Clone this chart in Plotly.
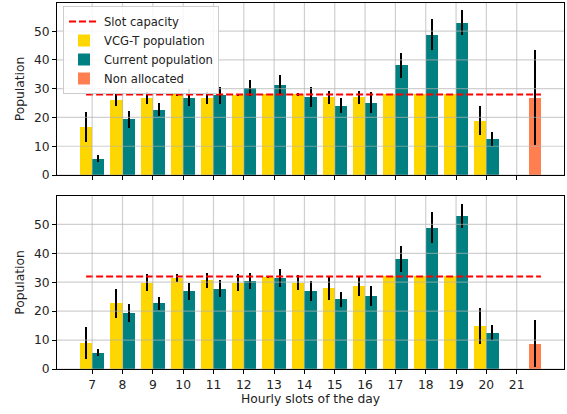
import plotly.graph_objects as go

hours = [7, 8, 9, 10, 11, 12, 13, 14, 15, 16, 17, 18, 19, 20, 21]

# Top panel
vcg_top = [16.8, 26.2, 26.9, 28.0, 26.9, 27.8, 28.0, 28.0, 27.0, 27.0, 28.0, 28.0, 28.0, 18.9, 0]
vcg_top_err = [5.2, 2.2, 2.1, 0.4, 2.1, 0.3, 0.2, 0.4, 2.2, 2.2, 0.2, 0.2, 0.2, 5.1, 0]
cur_pop = [5.7, 19.3, 22.7, 26.9, 27.7, 30.4, 31.4, 27.0, 24.1, 25.2, 38.1, 48.8, 53.0, 12.6, 0]
cur_err = [1.1, 3.1, 2.2, 2.9, 2.9, 2.8, 3.2, 3.5, 2.5, 3.5, 4.4, 5.3, 4.2, 2.5, 0]
nonalloc_top = [26.9]
nonalloc_top_err = [16.4]
capacity_top = 28.0

# Bottom panel
vcg_bot = [9.0, 22.7, 29.9, 31.4, 30.7, 29.9, 31.9, 29.8, 27.9, 28.6, 32.0, 32.0, 32.0, 15.0, 0]
vcg_bot_err = [5.5, 5.0, 2.9, 1.3, 2.6, 2.8, 0.3, 2.6, 4.0, 3.3, 0.2, 0.2, 0.2, 6.2, 0]
nonalloc_bot = [8.8]
nonalloc_bot_err = [8.2]
capacity_bot = 32.0

nonalloc_hour = [21]
cap_span = [6.8, 21.8]
yticks = [0, 10, 20, 30, 40, 50]

YELLOW = "#FFD700"
TEAL = "#008080"
CORAL = "#FF7F50"
BW = 0.4
FS = 12.3

fig = go.Figure()

def err(vals):
    return dict(type="data", array=vals, visible=True, color="black", thickness=2, width=0)

panels = [
    ("x", "y", vcg_top, vcg_top_err, nonalloc_top, nonalloc_top_err, capacity_top, True),
    ("x2", "y2", vcg_bot, vcg_bot_err, nonalloc_bot, nonalloc_bot_err, capacity_bot, False),
]

for xa, ya, vcg, vcge, na, nae, cap, show in panels:
    fig.add_trace(go.Bar(x=[h - BW / 2 for h in hours], y=vcg, width=BW, error_y=err(vcge),
                         marker=dict(color=YELLOW, line=dict(width=0)), name="VCG-T population",
                         showlegend=show, legendrank=2, xaxis=xa, yaxis=ya))
    fig.add_trace(go.Bar(x=[h + BW / 2 for h in hours], y=cur_pop, width=BW, error_y=err(cur_err),
                         marker=dict(color=TEAL, line=dict(width=0)), name="Current population",
                         showlegend=show, legendrank=3, xaxis=xa, yaxis=ya))
    fig.add_trace(go.Bar(x=[h + BW + BW / 2 for h in nonalloc_hour], y=na, width=BW, error_y=err(nae),
                         marker=dict(color=CORAL, line=dict(width=0)), name="Non allocated",
                         showlegend=show, legendrank=4, xaxis=xa, yaxis=ya))
    fig.add_trace(go.Scatter(x=cap_span, y=[cap, cap], mode="lines",
                             line=dict(color="red", width=2, dash="7px,3px"), name="Slot capacity",
                             showlegend=show, legendrank=1, xaxis=xa, yaxis=ya))

# grid lines drawn above bars (as in the reference)
shapes = []
gcol = "rgba(176,176,176,0.6)"
for xa, ya in [("x", "y"), ("x2", "y2")]:
    for h in hours:
        shapes.append(dict(type="line", xref=xa, yref=ya + " domain", x0=h, x1=h, y0=0, y1=1,
                           line=dict(color=gcol, width=1.2), layer="above"))
    for t in yticks:
        shapes.append(dict(type="line", xref=xa + " domain", yref=ya, x0=0, x1=1, y0=t, y1=t,
                           line=dict(color=gcol, width=1.2), layer="above"))

xdom = [57 / 567, 564 / 567]
axis_common = dict(showline=True, mirror=True, linecolor="black", linewidth=1, automargin=False,
                   ticks="outside", ticklen=4, tickcolor="black", showgrid=False, zeroline=False,
                   tickfont=dict(size=FS, color="#222"))
xr = [5.84, 22.56]
yr = [0, 59.8]

fig.update_layout(
    width=567, height=414,
    margin=dict(l=0, r=0, t=0, b=0, autoexpand=False),
    paper_bgcolor="white", plot_bgcolor="white",
    font=dict(family="DejaVu Sans", size=FS, color="#222"),
    barmode="overlay",
    bargap=0,
    shapes=shapes,
    xaxis=dict(domain=xdom, anchor="y", range=xr, tickvals=hours, showticklabels=False, **axis_common),
    yaxis=dict(domain=[1 - 175 / 414, 1 - 3 / 414], anchor="x", range=yr, tickvals=yticks,
               title=dict(text="Population", standoff=6, font=dict(size=FS)), **axis_common),
    xaxis2=dict(domain=xdom, anchor="y2", range=xr, tickvals=hours,
                title=dict(text="Hourly slots of the day", standoff=3, font=dict(size=FS)), **axis_common),
    yaxis2=dict(domain=[1 - 369 / 414, 1 - 196 / 414], anchor="x2", range=yr, tickvals=yticks,
                title=dict(text="Population", standoff=6, font=dict(size=FS)), **axis_common),
    legend=dict(x=63 / 567, y=1 - 6 / 414, xanchor="left", yanchor="top",
                bgcolor="rgba(255,255,255,0.85)", bordercolor="#cccccc", borderwidth=1,
                font=dict(size=11.6), traceorder="normal", tracegroupgap=0, itemwidth=30),
)

js = ("document.body.style.margin='0px';document.body.style.overflow='hidden';"
      "document.documentElement.style.overflow='hidden';")

fig.write_html("out.html", config={"displayModeBar": False, "responsive": False}, post_script=js)
